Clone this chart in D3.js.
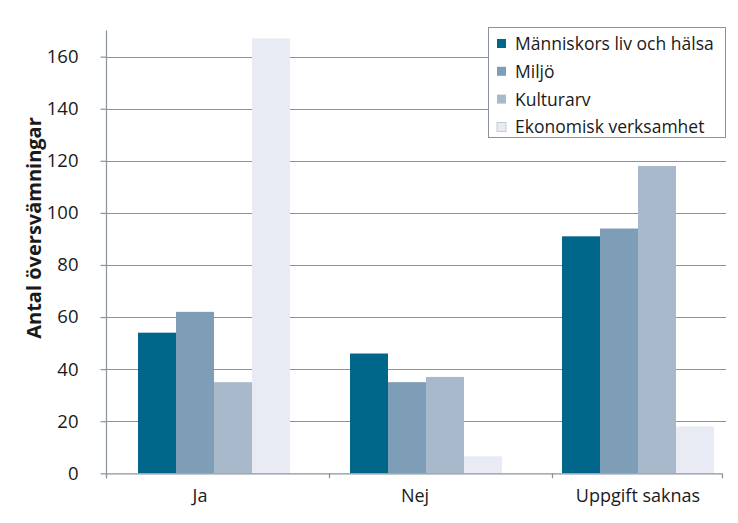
<!DOCTYPE html>
<html><head><meta charset="utf-8">
<script src="https://cdn.jsdelivr.net/npm/d3@7"></script>
<style>
html,body{margin:0;padding:0;background:#fff;}
text{font-family:"Open Sans","Noto Sans",sans-serif;fill:#1a1a1a;}
</style></head>
<body><svg id="c" width="738" height="523"></svg>
<script>
const categories = ["Ja", "Nej", "Uppgift saknas"];
const seriesNames = ["Människors liv och hälsa", "Miljö", "Kulturarv", "Ekonomisk verksamhet"];
const manniskor = [54, 46, 91];
const miljo = [62, 35, 94];
const kulturarv = [35, 37, 118];
const ekonomisk = [167, 6.5, 18];
const yTicks = [0, 20, 40, 60, 80, 100, 120, 140, 160];
const colors = ["#00668a", "#7e9db6", "#a8b9cb", "#e8ebf4"];
const yTitle = "Antal översvämningar";

const series = [manniskor, miljo, kulturarv, ekonomisk];
const svg = d3.select("#c");
svg.append("rect").attr("width",738).attr("height",523).attr("fill","#fff");

const y = d3.scaleLinear().domain([0,170]).range([473.3, 30.6]);
const x0 = d3.scaleBand().domain(categories).range([108,744]).paddingInner(0.283).paddingOuter(0.1415);
const x1 = d3.scaleBand().domain(seriesNames).range([0, x0.bandwidth()]);
const xTickScale = d3.scaleBand().domain(categories).range([106, 775]);
const axisRight = 722, gridRight = 726, axisLeft = 106;

// gridlines
svg.append("g").selectAll("line").data(yTicks.filter(d=>d>0)).join("line")
  .attr("x1", axisLeft).attr("x2", gridRight)
  .attr("y1", d=>Math.round(y(d))+0.5).attr("y2", d=>Math.round(y(d))+0.5)
  .attr("stroke","#8a939c").attr("stroke-width",1.2);

// bars
const g = svg.append("g");
categories.forEach((c,i)=>{
  seriesNames.forEach((s,j)=>{
    g.append("rect")
      .attr("x", x0(c)+x1(s)).attr("width", x1.bandwidth())
      .attr("y", y(series[j][i])).attr("height", y(0)-y(series[j][i]))
      .attr("fill", colors[j]);
  });
});

// y axis
const yAxis = d3.axisLeft(y).tickValues(yTicks).tickSize(6).tickPadding(22);
const ya = svg.append("g").attr("transform",`translate(${axisLeft+0.5},0)`).call(yAxis);
ya.select(".domain").remove();
ya.selectAll(".tick line").attr("stroke","#8a939c").attr("stroke-width",1.2);
ya.selectAll(".tick text").style("font-size","18.5px").style("font-family","'Open Sans',sans-serif").attr("fill","#1a1a1a");
svg.append("line").attr("x1",axisLeft+0.5).attr("x2",axisLeft+0.5).attr("y1",y(170)).attr("y2",y(0)+5)
  .attr("stroke","#8a939c").attr("stroke-width",1.2);

// x axis
svg.append("line").attr("x1",axisLeft).attr("x2",axisRight).attr("y1",y(0)+0.5).attr("y2",y(0)+0.5)
  .attr("stroke","#8a939c").attr("stroke-width",1.2);
const tickXs = categories.map(c=>xTickScale(c)).concat([axisRight]);
svg.append("g").selectAll("line").data(tickXs).join("line")
  .attr("x1",d=>d+0.5).attr("x2",d=>d+0.5).attr("y1",y(0)).attr("y2",y(0)+5)
  .attr("stroke","#8a939c").attr("stroke-width",1.2);
const labelOffsets = [-14, -11, 0];
svg.append("g").selectAll("text").data(categories).join("text")
  .attr("x",(d,i)=>x0(d)+x0.bandwidth()/2+labelOffsets[i]).attr("y",502)
  .attr("text-anchor","middle").style("font-size","18px").text(d=>d);

// y title
svg.append("text").attr("transform","translate(41,228) rotate(-90)")
  .attr("text-anchor","middle").style("font-size","20px").style("font-weight","bold").text(yTitle);

// legend
const lg = svg.append("g");
lg.append("rect").attr("x",488.5).attr("y",27.5).attr("width",237).attr("height",110)
  .attr("fill","#fff").attr("stroke","#8a939c").attr("stroke-width",1);
seriesNames.forEach((s,j)=>{
  const cy = 43.5 + j*27.8;
  lg.append("rect").attr("x",497).attr("y",cy-4.5).attr("width",9).attr("height",9)
    .attr("fill",colors[j]).attr("stroke", j===3 ? "#b8c0cc" : "none").attr("stroke-width",0.8);
  lg.append("text").attr("x",515).attr("y",cy+6.5).style("font-size","17.5px").text(s);
});
</script></body></html>
